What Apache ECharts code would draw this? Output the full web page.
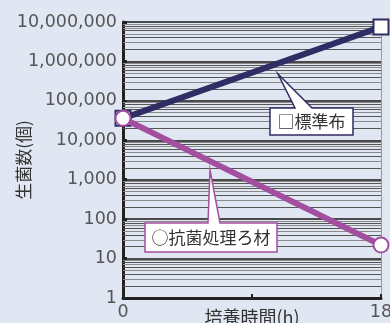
<!DOCTYPE html>
<html>
<head>
<meta charset="utf-8">
<script src="https://cdn.jsdelivr.net/npm/echarts@6/dist/echarts.min.js"></script>
<style>
  html, body { margin: 0; padding: 0; background: #e0e7f3; }
  #chart { width: 390px; height: 323px; }
</style>
</head>
<body>
<div id="chart"></div>
<script>
// Incubation time (h) and viable cell counts for each sample
const hours = [0, 18];
const standardCounts = [36000, 7500000];
const treatedCounts = [36000, 22];

// Axis ticks
const yMajorTicks = [1, 10, 100, 1000, 10000, 100000, 1000000, 10000000];
const xTickLabels = { 0: '0', 18: '18' };

// Minor grid values (2..9 × each decade)
const minorGrid = [];
for (let d = 0; d < 7; d++) {
  for (let m = 2; m <= 9; m++) minorGrid.push(m * Math.pow(10, d));
}

const FONT = '"DejaVu Sans", sans-serif';
const JP = '"Noto Sans CJK JP", sans-serif';
const NAVY = '#2f2d64';
const PURPLE = '#a24f9f';

const chart = echarts.init(document.getElementById('chart'));

chart.setOption({
  backgroundColor: '#e0e7f3',
  animation: false,
  grid: { left: 123, right: 9, top: 22, bottom: 25, outerBoundsMode: 'none', containLabel: false },
  xAxis: {
    type: 'value', min: 0, max: 18, interval: 9,
    name: '培養時間(h)', nameLocation: 'middle', nameGap: 10, nameMoveOverlap: false,
    nameTextStyle: { fontFamily: JP, fontSize: 18, color: '#333', verticalAlign: 'top' },
    axisLine: { lineStyle: { color: '#222', width: 3 } },
    axisTick: { inside: true, length: 4, lineStyle: { color: '#222', width: 2 } },
    axisLabel: {
      fontFamily: FONT, fontSize: 17.5, color: '#555', margin: 5,
      formatter: v => xTickLabels[v] || ''
    },
    splitLine: { show: false }
  },
  yAxis: [{
    type: 'log', logBase: 10, min: 1, max: 10000000,
    name: '生菌数(個)', nameLocation: 'middle', nameGap: 99, nameMoveOverlap: false,
    nameTextStyle: { fontFamily: JP, fontSize: 17, color: '#333', verticalAlign: 'middle' },
    axisLine: { show: true, lineStyle: { color: '#222', width: 3 } },
    axisTick: { inside: true, length: 4, lineStyle: { color: '#222', width: 3 } },
    axisLabel: {
      fontFamily: FONT, fontSize: 17.5, color: '#555', margin: 6,
      formatter: v => yMajorTicks.includes(Math.round(v)) ? Math.round(v).toLocaleString('en-US') : ''
    },
    splitLine: { show: true, lineStyle: { color: '#4a4a4a', width: 2 } }
  }, {
    type: 'log', logBase: 10, min: 1, max: 10000000, position: 'right',
    axisLine: { show: true, lineStyle: { color: '#9a9a9a', width: 1 } },
    axisTick: { show: false }, axisLabel: { show: false }, splitLine: { show: false }
  }],
  series: [{
    // minor grid lines drawn through the log scale
    type: 'line', data: [], silent: true, z: 1,
    markLine: {
      z: 1, silent: true, symbol: 'none', animation: false,
      label: { show: false },
      data: minorGrid.map((v, i) => ({
        yAxis: v,
        lineStyle: { color: (i % 2) ? '#8a8a8a' : '#555', width: 1, type: 'solid' }
      }))
    }
  }, {
    name: '標準布', type: 'line', z: 3,
    data: hours.map((h, i) => [h, standardCounts[i]]),
    lineStyle: { color: NAVY, width: 6 },
    symbol: 'rect', symbolSize: 15,
    itemStyle: { color: '#fff', borderColor: NAVY, borderWidth: 2 }
  }, {
    name: '抗菌処理ろ材', type: 'line', z: 4,
    data: hours.map((h, i) => [h, treatedCounts[i]]),
    lineStyle: { color: PURPLE, width: 6 },
    symbol: 'circle', symbolSize: 15,
    itemStyle: { color: '#fff', borderColor: PURPLE, borderWidth: 2 }
  }],
  graphic: [{
    type: 'polygon', z: 100,
    shape: { points: [[270, 108], [295, 108], [278, 74], [312, 108], [353, 108], [353, 135], [270, 135]] },
    style: { fill: '#fff', stroke: NAVY, lineWidth: 1.5 }
  }, {
    type: 'text', z: 101, x: 311.5, y: 122,
    style: { text: '□標準布', font: '17px ' + JP, fill: '#333', align: 'center', verticalAlign: 'middle' }
  }, {
    type: 'polygon', z: 100,
    shape: { points: [[145, 223], [208, 223], [210, 170], [220, 223], [277, 223], [277, 252], [145, 252]] },
    style: { fill: '#fff', stroke: PURPLE, lineWidth: 1.5 }
  }, {
    type: 'text', z: 101, x: 211, y: 238,
    style: { text: '○抗菌処理ろ材', font: '17px ' + JP, fill: '#333', align: 'center', verticalAlign: 'middle' }
  }]
});
</script>
</body>
</html>
